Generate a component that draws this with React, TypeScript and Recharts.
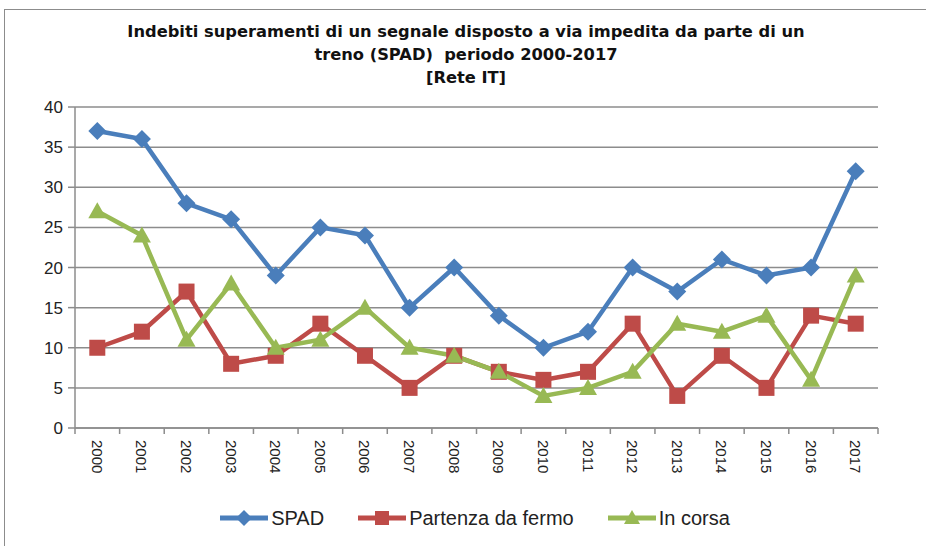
import React from "react";
import { LineChart, Line, XAxis, YAxis, CartesianGrid, Legend } from "recharts";

const years = [
  "2000", "2001", "2002", "2003", "2004", "2005", "2006", "2007", "2008",
  "2009", "2010", "2011", "2012", "2013", "2014", "2015", "2016", "2017",
];
const spad = [37, 36, 28, 26, 19, 25, 24, 15, 20, 14, 10, 12, 20, 17, 21, 19, 20, 32];
const partenzaDaFermo = [10, 12, 17, 8, 9, 13, 9, 5, 9, 7, 6, 7, 13, 4, 9, 5, 14, 13];
const inCorsa = [27, 24, 11, 18, 10, 11, 15, 10, 9, 7, 4, 5, 7, 13, 12, 14, 6, 19];
const yTicks = [0, 5, 10, 15, 20, 25, 30, 35, 40];

const BLUE = "#4A7EBB";
const RED = "#BE4B48";
const GREEN = "#98B954";
const GREY = "#8C8C8C";
const HALF_BAND = 22.3;

const data = years.map((year, i) => ({
  year,
  spad: spad[i],
  partenza: partenzaDaFermo[i],
  corsa: inCorsa[i],
}));

// marcatori stile Excel
const Diamond = (props: any) => {
  const { cx, cy, index } = props;
  if (cx == null || cy == null) return null;
  return (
    <path
      key={`dia-${index}`}
      d={`M${cx},${cy - 9}L${cx + 9},${cy}L${cx},${cy + 9}L${cx - 9},${cy}Z`}
      fill={BLUE}
    />
  );
};

const Square = (props: any) => {
  const { cx, cy, index } = props;
  if (cx == null || cy == null) return null;
  return <rect key={`sq-${index}`} x={cx - 8} y={cy - 8} width={16} height={16} fill={RED} />;
};

const Triangle = (props: any) => {
  const { cx, cy, index } = props;
  if (cx == null || cy == null) return null;
  return (
    <path
      key={`tri-${index}`}
      d={`M${cx},${cy - 9}L${cx + 9},${cy + 7}L${cx - 9},${cy + 7}Z`}
      fill={GREEN}
    />
  );
};

// etichette anni ruotate + tacche tra le categorie
const YearTick = (props: any) => {
  const { x, y, payload, index } = props;
  const axisY = y - 12;
  return (
    <g>
      <line x1={x - HALF_BAND} y1={axisY} x2={x - HALF_BAND} y2={axisY + 6} stroke={GREY} strokeWidth={1.5} />
      {index === years.length - 1 && (
        <line x1={x + HALF_BAND} y1={axisY} x2={x + HALF_BAND} y2={axisY + 6} stroke={GREY} strokeWidth={1.5} />
      )}
      <text
        x={x}
        y={axisY + 12}
        transform={`rotate(90, ${x}, ${axisY + 12})`}
        textAnchor="start"
        dominantBaseline="central"
        fontSize={15}
        fill="#222"
        fontFamily="Liberation Sans, Arial, sans-serif"
      >
        {payload.value}
      </text>
    </g>
  );
};

const legendItems = [
  { label: "SPAD", color: BLUE, shape: "diamond" },
  { label: "Partenza da fermo", color: RED, shape: "square" },
  { label: "In corsa", color: GREEN, shape: "triangle" },
];

const LegendContent = () => (
  <div
    style={{
      display: "flex",
      justifyContent: "center",
      alignItems: "center",
      gap: 34,
      fontFamily: "Liberation Sans, Arial, sans-serif",
      fontSize: 20,
      color: "#222",
      height: 40,
      paddingLeft: 72,
    }}
  >
    {legendItems.map((it) => (
      <div key={it.label} style={{ display: "flex", alignItems: "center", gap: 3 }}>
        <svg width={48} height={20}>
          <line x1={0} y1={10} x2={48} y2={10} stroke={it.color} strokeWidth={5} />
          {it.shape === "diamond" && <path d="M24,2L32,10L24,18L16,10Z" fill={it.color} />}
          {it.shape === "square" && <rect x={17} y={3} width={14} height={14} fill={it.color} />}
          {it.shape === "triangle" && <path d="M24,2L32,16L16,16Z" fill={it.color} />}
        </svg>
        <span>{it.label}</span>
      </div>
    ))}
  </div>
);

export default function App() {
  return (
    <div style={{ position: "absolute", left: 0, top: 0, width: 926, height: 546, background: "#fff", overflow: "hidden" }}>
      {/* cornice */}
      <div
        style={{
          position: "absolute",
          left: 4,
          top: 9,
          width: 940,
          height: 560,
          borderLeft: `1.5px solid ${GREY}`,
          borderTop: `1.5px solid ${GREY}`,
        }}
      />
      <div
        style={{
          position: "absolute",
          left: 0,
          top: 20,
          width: 932,
          textAlign: "center",
          fontFamily: "DejaVu Sans, sans-serif",
          fontWeight: "bold",
          fontSize: 16.3,
          lineHeight: "23px",
          color: "#111",
        }}
      >
        Indebiti superamenti di un segnale disposto a via impedita da parte di un
        <br />
        treno (SPAD)&nbsp; periodo 2000-2017
        <br />
        [Rete IT]
      </div>
      <div style={{ position: "absolute", left: 0, top: 0 }}>
        <LineChart
          width={926}
          height={546}
          data={data}
          margin={{ top: 107, right: 48, left: 0, bottom: 8 }}
        >
          <CartesianGrid vertical={false} stroke={GREY} strokeWidth={1.5} />
          <XAxis
            dataKey="year"
            interval={0}
            padding={{ left: HALF_BAND, right: HALF_BAND }}
            axisLine={{ stroke: GREY, strokeWidth: 1.5 }}
            tickLine={false}
            tickSize={6}
            tickMargin={6}
            tick={<YearTick />}
            height={70}
          />
          <YAxis
            domain={[0, 40]}
            ticks={yTicks}
            interval={0}
            width={75}
            axisLine={{ stroke: GREY, strokeWidth: 1.5 }}
            tickLine={{ stroke: GREY, strokeWidth: 1.5 }}
            tickSize={7}
            tickMargin={5}
            tick={{ fontSize: 17, fill: "#222", fontFamily: "Liberation Sans, Arial, sans-serif" }}
          />
          <Legend verticalAlign="bottom" height={40} content={<LegendContent />} />
          <Line
            type="linear"
            dataKey="spad"
            name="SPAD"
            stroke={BLUE}
            strokeWidth={4.5}
            dot={Diamond}
            activeDot={false}
            isAnimationActive={false}
          />
          <Line
            type="linear"
            dataKey="partenza"
            name="Partenza da fermo"
            stroke={RED}
            strokeWidth={4.5}
            dot={Square}
            activeDot={false}
            isAnimationActive={false}
          />
          <Line
            type="linear"
            dataKey="corsa"
            name="In corsa"
            stroke={GREEN}
            strokeWidth={4.5}
            dot={Triangle}
            activeDot={false}
            isAnimationActive={false}
          />
        </LineChart>
      </div>
    </div>
  );
}
